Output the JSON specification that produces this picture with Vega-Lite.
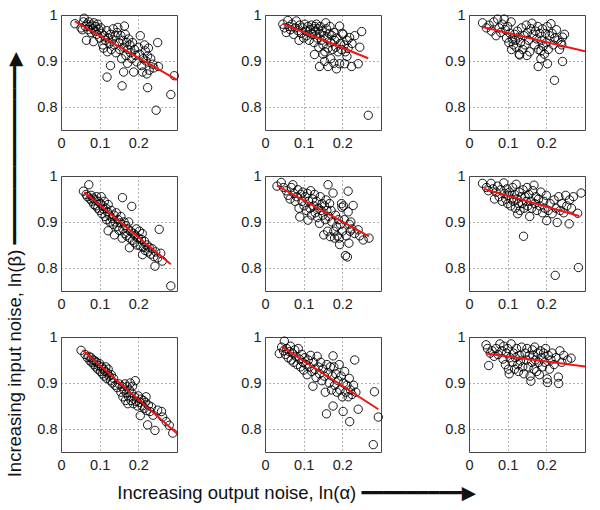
{
"$schema": "https://vega.github.io/schema/vega-lite/v6.json",
"background": "white",
"padding": {"left": 5, "top": 0, "right": 5, "bottom": 5},
"bounds": "flush",
"config": {
  "font": "Liberation Sans",
  "view": {"stroke": "#444", "strokeWidth": 1},
  "axis": {"grid": true, "gridDash": [1, 3], "gridColor": "#555", "gridWidth": 0.9, "domain": false, "ticks": false, "labelFont": "Liberation Sans", "labelFontSize": 14.5, "labelColor": "#222", "title": null},
  "header": {"titleFont": "Liberation Sans, DejaVu Sans", "titleFontSize": 18.5, "titleFontWeight": "normal", "titleColor": "#111", "labels": false}
},
"spacing": {"row": 46, "column": 88},
"data": {"values": [
{"r":1,"c":1,"t":"f","x":0.036,"y":0.986},{"r":1,"c":1,"t":"f","x":0.30,"y":0.859},
{"r":1,"c":2,"t":"f","x":0.046,"y":0.981},{"r":1,"c":2,"t":"f","x":0.267,"y":0.906},
{"r":1,"c":3,"t":"f","x":0.035,"y":0.974},{"r":1,"c":3,"t":"f","x":0.30,"y":0.921},
{"r":2,"c":1,"t":"f","x":0.06,"y":0.965},{"r":2,"c":1,"t":"f","x":0.284,"y":0.808},
{"r":2,"c":2,"t":"f","x":0.031,"y":0.979},{"r":2,"c":2,"t":"f","x":0.269,"y":0.869},
{"r":2,"c":3,"t":"f","x":0.038,"y":0.972},{"r":2,"c":3,"t":"f","x":0.285,"y":0.913},
{"r":3,"c":1,"t":"f","x":0.056,"y":0.971},{"r":3,"c":1,"t":"f","x":0.30,"y":0.79},
{"r":3,"c":2,"t":"f","x":0.043,"y":0.979},{"r":3,"c":2,"t":"f","x":0.293,"y":0.843},
{"r":3,"c":3,"t":"f","x":0.044,"y":0.964},{"r":3,"c":3,"t":"f","x":0.30,"y":0.936},
{"r":1,"c":1,"t":"p","x":0.036,"y":0.981},{"r":1,"c":1,"t":"p","x":0.052,"y":0.972},{"r":1,"c":1,"t":"p","x":0.055,"y":0.968},{"r":1,"c":1,"t":"p","x":0.058,"y":0.985},{"r":1,"c":1,"t":"p","x":0.060,"y":0.993},{"r":1,"c":1,"t":"p","x":0.063,"y":0.975},{"r":1,"c":1,"t":"p","x":0.067,"y":0.980},{"r":1,"c":1,"t":"p","x":0.070,"y":0.968},{"r":1,"c":1,"t":"p","x":0.072,"y":0.985},{"r":1,"c":1,"t":"p","x":0.075,"y":0.975},{"r":1,"c":1,"t":"p","x":0.078,"y":0.962},{"r":1,"c":1,"t":"p","x":0.080,"y":0.978},{"r":1,"c":1,"t":"p","x":0.083,"y":0.970},{"r":1,"c":1,"t":"p","x":0.085,"y":0.983},{"r":1,"c":1,"t":"p","x":0.088,"y":0.965},{"r":1,"c":1,"t":"p","x":0.090,"y":0.975},{"r":1,"c":1,"t":"p","x":0.093,"y":0.958},{"r":1,"c":1,"t":"p","x":0.095,"y":0.980},{"r":1,"c":1,"t":"p","x":0.098,"y":0.968},{"r":1,"c":1,"t":"p","x":0.100,"y":0.950},{"r":1,"c":1,"t":"p","x":0.103,"y":0.972},{"r":1,"c":1,"t":"p","x":0.066,"y":0.945},{"r":1,"c":1,"t":"p","x":0.084,"y":0.942},
{"r":1,"c":1,"t":"p","x":0.105,"y":0.960},{"r":1,"c":1,"t":"p","x":0.108,"y":0.935},{"r":1,"c":1,"t":"p","x":0.110,"y":0.928},{"r":1,"c":1,"t":"p","x":0.112,"y":0.955},{"r":1,"c":1,"t":"p","x":0.115,"y":0.945},{"r":1,"c":1,"t":"p","x":0.118,"y":0.966},{"r":1,"c":1,"t":"p","x":0.120,"y":0.920},{"r":1,"c":1,"t":"p","x":0.123,"y":0.950},{"r":1,"c":1,"t":"p","x":0.125,"y":0.938},{"r":1,"c":1,"t":"p","x":0.128,"y":0.958},{"r":1,"c":1,"t":"p","x":0.130,"y":0.925},{"r":1,"c":1,"t":"p","x":0.133,"y":0.946},{"r":1,"c":1,"t":"p","x":0.135,"y":0.970},{"r":1,"c":1,"t":"p","x":0.138,"y":0.935},{"r":1,"c":1,"t":"p","x":0.140,"y":0.955},{"r":1,"c":1,"t":"p","x":0.142,"y":0.918},{"r":1,"c":1,"t":"p","x":0.145,"y":0.962},{"r":1,"c":1,"t":"p","x":0.147,"y":0.973},{"r":1,"c":1,"t":"p","x":0.150,"y":0.940},{"r":1,"c":1,"t":"p","x":0.152,"y":0.925},{"r":1,"c":1,"t":"p","x":0.155,"y":0.955},{"r":1,"c":1,"t":"p","x":0.157,"y":0.905},{"r":1,"c":1,"t":"p","x":0.160,"y":0.945},{"r":1,"c":1,"t":"p","x":0.162,"y":0.930},{"r":1,"c":1,"t":"p","x":0.164,"y":0.976},{"r":1,"c":1,"t":"p","x":0.166,"y":0.958},{"r":1,"c":1,"t":"p","x":0.168,"y":0.912},{"r":1,"c":1,"t":"p","x":0.170,"y":0.940},{"r":1,"c":1,"t":"p","x":0.173,"y":0.925},
{"r":1,"c":1,"t":"p","x":0.119,"y":0.865},{"r":1,"c":1,"t":"p","x":0.128,"y":0.890},{"r":1,"c":1,"t":"p","x":0.158,"y":0.846},{"r":1,"c":1,"t":"p","x":0.162,"y":0.876},{"r":1,"c":1,"t":"p","x":0.172,"y":0.895},
{"r":1,"c":1,"t":"p","x":0.175,"y":0.948},{"r":1,"c":1,"t":"p","x":0.178,"y":0.935},{"r":1,"c":1,"t":"p","x":0.180,"y":0.918},{"r":1,"c":1,"t":"p","x":0.183,"y":0.905},{"r":1,"c":1,"t":"p","x":0.185,"y":0.940},{"r":1,"c":1,"t":"p","x":0.188,"y":0.876},{"r":1,"c":1,"t":"p","x":0.190,"y":0.925},{"r":1,"c":1,"t":"p","x":0.193,"y":0.912},{"r":1,"c":1,"t":"p","x":0.196,"y":0.898},{"r":1,"c":1,"t":"p","x":0.200,"y":0.930},{"r":1,"c":1,"t":"p","x":0.203,"y":0.915},{"r":1,"c":1,"t":"p","x":0.205,"y":0.955},{"r":1,"c":1,"t":"p","x":0.208,"y":0.890},{"r":1,"c":1,"t":"p","x":0.211,"y":0.876},{"r":1,"c":1,"t":"p","x":0.213,"y":0.905},{"r":1,"c":1,"t":"p","x":0.216,"y":0.935},{"r":1,"c":1,"t":"p","x":0.218,"y":0.922},{"r":1,"c":1,"t":"p","x":0.220,"y":0.900},{"r":1,"c":1,"t":"p","x":0.222,"y":0.872},{"r":1,"c":1,"t":"p","x":0.224,"y":0.911},{"r":1,"c":1,"t":"p","x":0.226,"y":0.928},{"r":1,"c":1,"t":"p","x":0.228,"y":0.880},{"r":1,"c":1,"t":"p","x":0.232,"y":0.905},{"r":1,"c":1,"t":"p","x":0.237,"y":0.893},{"r":1,"c":1,"t":"p","x":0.240,"y":0.885},{"r":1,"c":1,"t":"p","x":0.250,"y":0.940},{"r":1,"c":1,"t":"p","x":0.252,"y":0.888},{"r":1,"c":1,"t":"p","x":0.224,"y":0.842},{"r":1,"c":1,"t":"p","x":0.246,"y":0.793},{"r":1,"c":1,"t":"p","x":0.284,"y":0.827},{"r":1,"c":1,"t":"p","x":0.293,"y":0.868},
{"r":1,"c":2,"t":"p","x":0.046,"y":0.980},{"r":1,"c":2,"t":"p","x":0.050,"y":0.972},{"r":1,"c":2,"t":"p","x":0.055,"y":0.962},{"r":1,"c":2,"t":"p","x":0.059,"y":0.988},{"r":1,"c":2,"t":"p","x":0.062,"y":0.975},{"r":1,"c":2,"t":"p","x":0.066,"y":0.968},{"r":1,"c":2,"t":"p","x":0.070,"y":0.980},{"r":1,"c":2,"t":"p","x":0.074,"y":0.958},{"r":1,"c":2,"t":"p","x":0.078,"y":0.972},{"r":1,"c":2,"t":"p","x":0.081,"y":0.987},{"r":1,"c":2,"t":"p","x":0.085,"y":0.966},{"r":1,"c":2,"t":"p","x":0.088,"y":0.945},{"r":1,"c":2,"t":"p","x":0.090,"y":0.978},{"r":1,"c":2,"t":"p","x":0.094,"y":0.960},{"r":1,"c":2,"t":"p","x":0.097,"y":0.972},{"r":1,"c":2,"t":"p","x":0.100,"y":0.950},{"r":1,"c":2,"t":"p","x":0.103,"y":0.980},{"r":1,"c":2,"t":"p","x":0.106,"y":0.965},{"r":1,"c":2,"t":"p","x":0.108,"y":0.955},{"r":1,"c":2,"t":"p","x":0.111,"y":0.975},{"r":1,"c":2,"t":"p","x":0.114,"y":0.945},{"r":1,"c":2,"t":"p","x":0.117,"y":0.968},{"r":1,"c":2,"t":"p","x":0.120,"y":0.978},{"r":1,"c":2,"t":"p","x":0.122,"y":0.958},{"r":1,"c":2,"t":"p","x":0.125,"y":0.970},{"r":1,"c":2,"t":"p","x":0.127,"y":0.940},{"r":1,"c":2,"t":"p","x":0.129,"y":0.975},{"r":1,"c":2,"t":"p","x":0.131,"y":0.965},{"r":1,"c":2,"t":"p","x":0.133,"y":0.980},{"r":1,"c":2,"t":"p","x":0.135,"y":0.950},{"r":1,"c":2,"t":"p","x":0.137,"y":0.970},{"r":1,"c":2,"t":"p","x":0.139,"y":0.930},{"r":1,"c":2,"t":"p","x":0.141,"y":0.960},{"r":1,"c":2,"t":"p","x":0.143,"y":0.975},{"r":1,"c":2,"t":"p","x":0.146,"y":0.945},{"r":1,"c":2,"t":"p","x":0.148,"y":0.965},{"r":1,"c":2,"t":"p","x":0.150,"y":0.935},{"r":1,"c":2,"t":"p","x":0.152,"y":0.955},{"r":1,"c":2,"t":"p","x":0.155,"y":0.920},{"r":1,"c":2,"t":"p","x":0.157,"y":0.983},{"r":1,"c":2,"t":"p","x":0.159,"y":0.970},{"r":1,"c":2,"t":"p","x":0.161,"y":0.948},{"r":1,"c":2,"t":"p","x":0.163,"y":0.928},{"r":1,"c":2,"t":"p","x":0.166,"y":0.960},{"r":1,"c":2,"t":"p","x":0.168,"y":0.975},{"r":1,"c":2,"t":"p","x":0.170,"y":0.940},{"r":1,"c":2,"t":"p","x":0.173,"y":0.955},{"r":1,"c":2,"t":"p","x":0.175,"y":0.925},{"r":1,"c":2,"t":"p","x":0.178,"y":0.962},{"r":1,"c":2,"t":"p","x":0.180,"y":0.945},{"r":1,"c":2,"t":"p","x":0.183,"y":0.930},{"r":1,"c":2,"t":"p","x":0.186,"y":0.950},{"r":1,"c":2,"t":"p","x":0.189,"y":0.920},{"r":1,"c":2,"t":"p","x":0.193,"y":0.976},{"r":1,"c":2,"t":"p","x":0.195,"y":0.938},{"r":1,"c":2,"t":"p","x":0.198,"y":0.925},{"r":1,"c":2,"t":"p","x":0.200,"y":0.960},{"r":1,"c":2,"t":"p","x":0.202,"y":0.958},{"r":1,"c":2,"t":"p","x":0.205,"y":0.935},{"r":1,"c":2,"t":"p","x":0.208,"y":0.920},{"r":1,"c":2,"t":"p","x":0.212,"y":0.945},{"r":1,"c":2,"t":"p","x":0.215,"y":0.928},{"r":1,"c":2,"t":"p","x":0.219,"y":0.951},{"r":1,"c":2,"t":"p","x":0.225,"y":0.938},{"r":1,"c":2,"t":"p","x":0.232,"y":0.955},{"r":1,"c":2,"t":"p","x":0.245,"y":0.930},{"r":1,"c":2,"t":"p","x":0.250,"y":0.964},
{"r":1,"c":2,"t":"p","x":0.128,"y":0.914},{"r":1,"c":2,"t":"p","x":0.150,"y":0.915},{"r":1,"c":2,"t":"p","x":0.141,"y":0.888},{"r":1,"c":2,"t":"p","x":0.154,"y":0.899},{"r":1,"c":2,"t":"p","x":0.163,"y":0.888},{"r":1,"c":2,"t":"p","x":0.170,"y":0.905},{"r":1,"c":2,"t":"p","x":0.178,"y":0.895},{"r":1,"c":2,"t":"p","x":0.185,"y":0.883},{"r":1,"c":2,"t":"p","x":0.193,"y":0.894},{"r":1,"c":2,"t":"p","x":0.206,"y":0.894},{"r":1,"c":2,"t":"p","x":0.212,"y":0.910},{"r":1,"c":2,"t":"p","x":0.224,"y":0.888},{"r":1,"c":2,"t":"p","x":0.241,"y":0.894},{"r":1,"c":2,"t":"p","x":0.267,"y":0.782},
{"r":1,"c":3,"t":"p","x":0.035,"y":0.983},{"r":1,"c":3,"t":"p","x":0.045,"y":0.972},{"r":1,"c":3,"t":"p","x":0.052,"y":0.978},{"r":1,"c":3,"t":"p","x":0.058,"y":0.965},{"r":1,"c":3,"t":"p","x":0.064,"y":0.985},{"r":1,"c":3,"t":"p","x":0.070,"y":0.955},{"r":1,"c":3,"t":"p","x":0.074,"y":0.991},{"r":1,"c":3,"t":"p","x":0.078,"y":0.972},{"r":1,"c":3,"t":"p","x":0.082,"y":0.962},{"r":1,"c":3,"t":"p","x":0.086,"y":0.980},{"r":1,"c":3,"t":"p","x":0.091,"y":0.991},{"r":1,"c":3,"t":"p","x":0.094,"y":0.968},{"r":1,"c":3,"t":"p","x":0.097,"y":0.950},{"r":1,"c":3,"t":"p","x":0.100,"y":0.975},{"r":1,"c":3,"t":"p","x":0.103,"y":0.940},{"r":1,"c":3,"t":"p","x":0.106,"y":0.960},{"r":1,"c":3,"t":"p","x":0.109,"y":0.985},{"r":1,"c":3,"t":"p","x":0.112,"y":0.948},{"r":1,"c":3,"t":"p","x":0.115,"y":0.935},{"r":1,"c":3,"t":"p","x":0.118,"y":0.958},{"r":1,"c":3,"t":"p","x":0.120,"y":0.945},{"r":1,"c":3,"t":"p","x":0.122,"y":0.930},{"r":1,"c":3,"t":"p","x":0.125,"y":0.965},{"r":1,"c":3,"t":"p","x":0.128,"y":0.952},{"r":1,"c":3,"t":"p","x":0.130,"y":0.915},{"r":1,"c":3,"t":"p","x":0.133,"y":0.940},{"r":1,"c":3,"t":"p","x":0.136,"y":0.972},{"r":1,"c":3,"t":"p","x":0.139,"y":0.925},{"r":1,"c":3,"t":"p","x":0.142,"y":0.955},{"r":1,"c":3,"t":"p","x":0.145,"y":0.935},{"r":1,"c":3,"t":"p","x":0.148,"y":0.978},{"r":1,"c":3,"t":"p","x":0.151,"y":0.962},{"r":1,"c":3,"t":"p","x":0.154,"y":0.945},{"r":1,"c":3,"t":"p","x":0.157,"y":0.920},{"r":1,"c":3,"t":"p","x":0.160,"y":0.970},{"r":1,"c":3,"t":"p","x":0.163,"y":0.982},{"r":1,"c":3,"t":"p","x":0.166,"y":0.958},{"r":1,"c":3,"t":"p","x":0.169,"y":0.935},{"r":1,"c":3,"t":"p","x":0.172,"y":0.965},{"r":1,"c":3,"t":"p","x":0.175,"y":0.948},{"r":1,"c":3,"t":"p","x":0.178,"y":0.975},{"r":1,"c":3,"t":"p","x":0.180,"y":0.925},{"r":1,"c":3,"t":"p","x":0.183,"y":0.960},{"r":1,"c":3,"t":"p","x":0.186,"y":0.922},{"r":1,"c":3,"t":"p","x":0.188,"y":0.945},{"r":1,"c":3,"t":"p","x":0.190,"y":0.970},{"r":1,"c":3,"t":"p","x":0.192,"y":0.932},{"r":1,"c":3,"t":"p","x":0.195,"y":0.915},{"r":1,"c":3,"t":"p","x":0.198,"y":0.960},{"r":1,"c":3,"t":"p","x":0.200,"y":0.940},{"r":1,"c":3,"t":"p","x":0.202,"y":0.975},{"r":1,"c":3,"t":"p","x":0.205,"y":0.925},{"r":1,"c":3,"t":"p","x":0.208,"y":0.955},{"r":1,"c":3,"t":"p","x":0.212,"y":0.981},{"r":1,"c":3,"t":"p","x":0.215,"y":0.960},{"r":1,"c":3,"t":"p","x":0.218,"y":0.935},{"r":1,"c":3,"t":"p","x":0.222,"y":0.950},{"r":1,"c":3,"t":"p","x":0.226,"y":0.968},{"r":1,"c":3,"t":"p","x":0.230,"y":0.945},{"r":1,"c":3,"t":"p","x":0.234,"y":0.925},{"r":1,"c":3,"t":"p","x":0.238,"y":0.940},{"r":1,"c":3,"t":"p","x":0.242,"y":0.952},{"r":1,"c":3,"t":"p","x":0.247,"y":0.958},{"r":1,"c":3,"t":"p","x":0.240,"y":0.935},{"r":1,"c":3,"t":"p","x":0.179,"y":0.888},{"r":1,"c":3,"t":"p","x":0.203,"y":0.894},{"r":1,"c":3,"t":"p","x":0.242,"y":0.899},{"r":1,"c":3,"t":"p","x":0.221,"y":0.858},{"r":1,"c":3,"t":"p","x":0.131,"y":0.913},{"r":1,"c":3,"t":"p","x":0.186,"y":0.905},{"r":1,"c":3,"t":"p","x":0.110,"y":0.925},{"r":1,"c":3,"t":"p","x":0.150,"y":0.912},
{"r":2,"c":1,"t":"p","x":0.058,"y":0.967},{"r":2,"c":1,"t":"p","x":0.065,"y":0.960},{"r":2,"c":1,"t":"p","x":0.068,"y":0.955},{"r":2,"c":1,"t":"p","x":0.072,"y":0.981},{"r":2,"c":1,"t":"p","x":0.075,"y":0.950},{"r":2,"c":1,"t":"p","x":0.078,"y":0.958},{"r":2,"c":1,"t":"p","x":0.080,"y":0.945},{"r":2,"c":1,"t":"p","x":0.083,"y":0.952},{"r":2,"c":1,"t":"p","x":0.085,"y":0.938},{"r":2,"c":1,"t":"p","x":0.088,"y":0.948},{"r":2,"c":1,"t":"p","x":0.090,"y":0.935},{"r":2,"c":1,"t":"p","x":0.092,"y":0.955},{"r":2,"c":1,"t":"p","x":0.095,"y":0.930},{"r":2,"c":1,"t":"p","x":0.097,"y":0.945},{"r":2,"c":1,"t":"p","x":0.100,"y":0.925},{"r":2,"c":1,"t":"p","x":0.102,"y":0.940},{"r":2,"c":1,"t":"p","x":0.104,"y":0.955},{"r":2,"c":1,"t":"p","x":0.106,"y":0.918},{"r":2,"c":1,"t":"p","x":0.108,"y":0.935},{"r":2,"c":1,"t":"p","x":0.110,"y":0.928},{"r":2,"c":1,"t":"p","x":0.112,"y":0.945},{"r":2,"c":1,"t":"p","x":0.114,"y":0.912},{"r":2,"c":1,"t":"p","x":0.116,"y":0.930},{"r":2,"c":1,"t":"p","x":0.118,"y":0.905},{"r":2,"c":1,"t":"p","x":0.120,"y":0.922},{"r":2,"c":1,"t":"p","x":0.122,"y":0.938},{"r":2,"c":1,"t":"p","x":0.122,"y":0.881},{"r":2,"c":1,"t":"p","x":0.125,"y":0.915},{"r":2,"c":1,"t":"p","x":0.127,"y":0.900},{"r":2,"c":1,"t":"p","x":0.130,"y":0.925},{"r":2,"c":1,"t":"p","x":0.132,"y":0.908},{"r":2,"c":1,"t":"p","x":0.135,"y":0.895},{"r":2,"c":1,"t":"p","x":0.137,"y":0.915},{"r":2,"c":1,"t":"p","x":0.138,"y":0.872},{"r":2,"c":1,"t":"p","x":0.140,"y":0.900},{"r":2,"c":1,"t":"p","x":0.143,"y":0.920},{"r":2,"c":1,"t":"p","x":0.145,"y":0.890},{"r":2,"c":1,"t":"p","x":0.148,"y":0.905},{"r":2,"c":1,"t":"p","x":0.150,"y":0.882},{"r":2,"c":1,"t":"p","x":0.153,"y":0.898},{"r":2,"c":1,"t":"p","x":0.155,"y":0.912},{"r":2,"c":1,"t":"p","x":0.158,"y":0.865},{"r":2,"c":1,"t":"p","x":0.159,"y":0.953},{"r":2,"c":1,"t":"p","x":0.160,"y":0.885},{"r":2,"c":1,"t":"p","x":0.163,"y":0.900},{"r":2,"c":1,"t":"p","x":0.165,"y":0.875},{"r":2,"c":1,"t":"p","x":0.168,"y":0.892},{"r":2,"c":1,"t":"p","x":0.170,"y":0.870},{"r":2,"c":1,"t":"p","x":0.173,"y":0.885},{"r":2,"c":1,"t":"p","x":0.175,"y":0.900},{"r":2,"c":1,"t":"p","x":0.177,"y":0.844},{"r":2,"c":1,"t":"p","x":0.178,"y":0.865},{"r":2,"c":1,"t":"p","x":0.180,"y":0.880},{"r":2,"c":1,"t":"p","x":0.183,"y":0.934},{"r":2,"c":1,"t":"p","x":0.185,"y":0.860},{"r":2,"c":1,"t":"p","x":0.188,"y":0.875},{"r":2,"c":1,"t":"p","x":0.190,"y":0.855},{"r":2,"c":1,"t":"p","x":0.192,"y":0.870},{"r":2,"c":1,"t":"p","x":0.195,"y":0.885},{"r":2,"c":1,"t":"p","x":0.197,"y":0.850},{"r":2,"c":1,"t":"p","x":0.200,"y":0.865},{"r":2,"c":1,"t":"p","x":0.203,"y":0.880},{"r":2,"c":1,"t":"p","x":0.205,"y":0.848},{"r":2,"c":1,"t":"p","x":0.208,"y":0.862},{"r":2,"c":1,"t":"p","x":0.210,"y":0.875},{"r":2,"c":1,"t":"p","x":0.211,"y":0.829},{"r":2,"c":1,"t":"p","x":0.213,"y":0.845},{"r":2,"c":1,"t":"p","x":0.216,"y":0.858},{"r":2,"c":1,"t":"p","x":0.218,"y":0.838},{"r":2,"c":1,"t":"p","x":0.222,"y":0.850},{"r":2,"c":1,"t":"p","x":0.225,"y":0.835},{"r":2,"c":1,"t":"p","x":0.228,"y":0.845},{"r":2,"c":1,"t":"p","x":0.232,"y":0.830},{"r":2,"c":1,"t":"p","x":0.236,"y":0.842},{"r":2,"c":1,"t":"p","x":0.240,"y":0.825},{"r":2,"c":1,"t":"p","x":0.243,"y":0.804},{"r":2,"c":1,"t":"p","x":0.245,"y":0.835},{"r":2,"c":1,"t":"p","x":0.250,"y":0.822},{"r":2,"c":1,"t":"p","x":0.254,"y":0.884},{"r":2,"c":1,"t":"p","x":0.258,"y":0.832},{"r":2,"c":1,"t":"p","x":0.262,"y":0.815},{"r":2,"c":1,"t":"p","x":0.284,"y":0.761},
{"r":2,"c":2,"t":"p","x":0.031,"y":0.978},{"r":2,"c":2,"t":"p","x":0.042,"y":0.986},{"r":2,"c":2,"t":"p","x":0.048,"y":0.975},{"r":2,"c":2,"t":"p","x":0.055,"y":0.968},{"r":2,"c":2,"t":"p","x":0.060,"y":0.958},{"r":2,"c":2,"t":"p","x":0.065,"y":0.950},{"r":2,"c":2,"t":"p","x":0.068,"y":0.975},{"r":2,"c":2,"t":"p","x":0.072,"y":0.981},{"r":2,"c":2,"t":"p","x":0.075,"y":0.962},{"r":2,"c":2,"t":"p","x":0.078,"y":0.945},{"r":2,"c":2,"t":"p","x":0.082,"y":0.955},{"r":2,"c":2,"t":"p","x":0.085,"y":0.970},{"r":2,"c":2,"t":"p","x":0.088,"y":0.930},{"r":2,"c":2,"t":"p","x":0.090,"y":0.911},{"r":2,"c":2,"t":"p","x":0.093,"y":0.960},{"r":2,"c":2,"t":"p","x":0.096,"y":0.945},{"r":2,"c":2,"t":"p","x":0.098,"y":0.965},{"r":2,"c":2,"t":"p","x":0.101,"y":0.935},{"r":2,"c":2,"t":"p","x":0.104,"y":0.955},{"r":2,"c":2,"t":"p","x":0.107,"y":0.925},{"r":2,"c":2,"t":"p","x":0.110,"y":0.962},{"r":2,"c":2,"t":"p","x":0.111,"y":0.904},{"r":2,"c":2,"t":"p","x":0.113,"y":0.945},{"r":2,"c":2,"t":"p","x":0.116,"y":0.930},{"r":2,"c":2,"t":"p","x":0.118,"y":0.968},{"r":2,"c":2,"t":"p","x":0.120,"y":0.915},{"r":2,"c":2,"t":"p","x":0.123,"y":0.950},{"r":2,"c":2,"t":"p","x":0.126,"y":0.935},{"r":2,"c":2,"t":"p","x":0.128,"y":0.960},{"r":2,"c":2,"t":"p","x":0.130,"y":0.920},{"r":2,"c":2,"t":"p","x":0.133,"y":0.945},{"r":2,"c":2,"t":"p","x":0.136,"y":0.910},{"r":2,"c":2,"t":"p","x":0.138,"y":0.930},{"r":2,"c":2,"t":"p","x":0.141,"y":0.897},{"r":2,"c":2,"t":"p","x":0.143,"y":0.955},{"r":2,"c":2,"t":"p","x":0.145,"y":0.925},{"r":2,"c":2,"t":"p","x":0.148,"y":0.940},{"r":2,"c":2,"t":"p","x":0.150,"y":0.915},{"r":2,"c":2,"t":"p","x":0.152,"y":0.872},{"r":2,"c":2,"t":"p","x":0.154,"y":0.935},{"r":2,"c":2,"t":"p","x":0.156,"y":0.905},{"r":2,"c":2,"t":"p","x":0.158,"y":0.948},{"r":2,"c":2,"t":"p","x":0.160,"y":0.925},{"r":2,"c":2,"t":"p","x":0.162,"y":0.880},{"r":2,"c":2,"t":"p","x":0.163,"y":0.981},{"r":2,"c":2,"t":"p","x":0.165,"y":0.912},{"r":2,"c":2,"t":"p","x":0.167,"y":0.940},{"r":2,"c":2,"t":"p","x":0.169,"y":0.868},{"r":2,"c":2,"t":"p","x":0.171,"y":0.925},{"r":2,"c":2,"t":"p","x":0.173,"y":0.900},{"r":2,"c":2,"t":"p","x":0.176,"y":0.963},{"r":2,"c":2,"t":"p","x":0.178,"y":0.880},{"r":2,"c":2,"t":"p","x":0.180,"y":0.865},{"r":2,"c":2,"t":"p","x":0.182,"y":0.915},{"r":2,"c":2,"t":"p","x":0.185,"y":0.890},{"r":2,"c":2,"t":"p","x":0.187,"y":0.870},{"r":2,"c":2,"t":"p","x":0.190,"y":0.905},{"r":2,"c":2,"t":"p","x":0.192,"y":0.865},{"r":2,"c":2,"t":"p","x":0.193,"y":0.851},{"r":2,"c":2,"t":"p","x":0.195,"y":0.895},{"r":2,"c":2,"t":"p","x":0.198,"y":0.940},{"r":2,"c":2,"t":"p","x":0.199,"y":0.932},{"r":2,"c":2,"t":"p","x":0.200,"y":0.880},{"r":2,"c":2,"t":"p","x":0.203,"y":0.935},{"r":2,"c":2,"t":"p","x":0.205,"y":0.905},{"r":2,"c":2,"t":"p","x":0.208,"y":0.827},{"r":2,"c":2,"t":"p","x":0.210,"y":0.870},{"r":2,"c":2,"t":"p","x":0.213,"y":0.824},{"r":2,"c":2,"t":"p","x":0.215,"y":0.967},{"r":2,"c":2,"t":"p","x":0.215,"y":0.922},{"r":2,"c":2,"t":"p","x":0.217,"y":0.854},{"r":2,"c":2,"t":"p","x":0.218,"y":0.895},{"r":2,"c":2,"t":"p","x":0.220,"y":0.880},{"r":2,"c":2,"t":"p","x":0.222,"y":0.900},{"r":2,"c":2,"t":"p","x":0.225,"y":0.885},{"r":2,"c":2,"t":"p","x":0.228,"y":0.936},{"r":2,"c":2,"t":"p","x":0.232,"y":0.875},{"r":2,"c":2,"t":"p","x":0.241,"y":0.883},{"r":2,"c":2,"t":"p","x":0.245,"y":0.870},{"r":2,"c":2,"t":"p","x":0.254,"y":0.861},{"r":2,"c":2,"t":"p","x":0.269,"y":0.865},
{"r":2,"c":3,"t":"p","x":0.035,"y":0.984},{"r":2,"c":3,"t":"p","x":0.045,"y":0.975},{"r":2,"c":3,"t":"p","x":0.050,"y":0.968},{"r":2,"c":3,"t":"p","x":0.057,"y":0.984},{"r":2,"c":3,"t":"p","x":0.062,"y":0.972},{"r":2,"c":3,"t":"p","x":0.066,"y":0.950},{"r":2,"c":3,"t":"p","x":0.070,"y":0.965},{"r":2,"c":3,"t":"p","x":0.074,"y":0.978},{"r":2,"c":3,"t":"p","x":0.078,"y":0.955},{"r":2,"c":3,"t":"p","x":0.082,"y":0.970},{"r":2,"c":3,"t":"p","x":0.086,"y":0.945},{"r":2,"c":3,"t":"p","x":0.090,"y":0.985},{"r":2,"c":3,"t":"p","x":0.092,"y":0.962},{"r":2,"c":3,"t":"p","x":0.095,"y":0.950},{"r":2,"c":3,"t":"p","x":0.098,"y":0.972},{"r":2,"c":3,"t":"p","x":0.100,"y":0.940},{"r":2,"c":3,"t":"p","x":0.102,"y":0.958},{"r":2,"c":3,"t":"p","x":0.105,"y":0.965},{"r":2,"c":3,"t":"p","x":0.108,"y":0.935},{"r":2,"c":3,"t":"p","x":0.110,"y":0.950},{"r":2,"c":3,"t":"p","x":0.113,"y":0.975},{"r":2,"c":3,"t":"p","x":0.115,"y":0.945},{"r":2,"c":3,"t":"p","x":0.118,"y":0.960},{"r":2,"c":3,"t":"p","x":0.120,"y":0.930},{"r":2,"c":3,"t":"p","x":0.122,"y":0.982},{"r":2,"c":3,"t":"p","x":0.124,"y":0.950},{"r":2,"c":3,"t":"p","x":0.126,"y":0.918},{"r":2,"c":3,"t":"p","x":0.128,"y":0.940},{"r":2,"c":3,"t":"p","x":0.130,"y":0.965},{"r":2,"c":3,"t":"p","x":0.132,"y":0.925},{"r":2,"c":3,"t":"p","x":0.135,"y":0.955},{"r":2,"c":3,"t":"p","x":0.138,"y":0.940},{"r":2,"c":3,"t":"p","x":0.140,"y":0.970},{"r":2,"c":3,"t":"p","x":0.141,"y":0.869},{"r":2,"c":3,"t":"p","x":0.143,"y":0.930},{"r":2,"c":3,"t":"p","x":0.145,"y":0.955},{"r":2,"c":3,"t":"p","x":0.148,"y":0.945},{"r":2,"c":3,"t":"p","x":0.150,"y":0.975},{"r":2,"c":3,"t":"p","x":0.152,"y":0.935},{"r":2,"c":3,"t":"p","x":0.155,"y":0.960},{"r":2,"c":3,"t":"p","x":0.157,"y":0.912},{"r":2,"c":3,"t":"p","x":0.160,"y":0.945},{"r":2,"c":3,"t":"p","x":0.162,"y":0.930},{"r":2,"c":3,"t":"p","x":0.165,"y":0.968},{"r":2,"c":3,"t":"p","x":0.168,"y":0.980},{"r":2,"c":3,"t":"p","x":0.170,"y":0.940},{"r":2,"c":3,"t":"p","x":0.173,"y":0.955},{"r":2,"c":3,"t":"p","x":0.176,"y":0.925},{"r":2,"c":3,"t":"p","x":0.180,"y":0.950},{"r":2,"c":3,"t":"p","x":0.183,"y":0.935},{"r":2,"c":3,"t":"p","x":0.186,"y":0.965},{"r":2,"c":3,"t":"p","x":0.190,"y":0.920},{"r":2,"c":3,"t":"p","x":0.193,"y":0.945},{"r":2,"c":3,"t":"p","x":0.196,"y":0.930},{"r":2,"c":3,"t":"p","x":0.200,"y":0.958},{"r":2,"c":3,"t":"p","x":0.201,"y":0.903},{"r":2,"c":3,"t":"p","x":0.205,"y":0.925},{"r":2,"c":3,"t":"p","x":0.210,"y":0.940},{"r":2,"c":3,"t":"p","x":0.215,"y":0.918},{"r":2,"c":3,"t":"p","x":0.220,"y":0.948},{"r":2,"c":3,"t":"p","x":0.223,"y":0.784},{"r":2,"c":3,"t":"p","x":0.225,"y":0.930},{"r":2,"c":3,"t":"p","x":0.228,"y":0.899},{"r":2,"c":3,"t":"p","x":0.232,"y":0.955},{"r":2,"c":3,"t":"p","x":0.236,"y":0.925},{"r":2,"c":3,"t":"p","x":0.240,"y":0.940},{"r":2,"c":3,"t":"p","x":0.245,"y":0.920},{"r":2,"c":3,"t":"p","x":0.250,"y":0.958},{"r":2,"c":3,"t":"p","x":0.253,"y":0.935},{"r":2,"c":3,"t":"p","x":0.259,"y":0.896},{"r":2,"c":3,"t":"p","x":0.260,"y":0.948},{"r":2,"c":3,"t":"p","x":0.265,"y":0.930},{"r":2,"c":3,"t":"p","x":0.270,"y":0.955},{"r":2,"c":3,"t":"p","x":0.281,"y":0.919},{"r":2,"c":3,"t":"p","x":0.283,"y":0.801},{"r":2,"c":3,"t":"p","x":0.290,"y":0.963},
{"r":3,"c":1,"t":"p","x":0.052,"y":0.971},{"r":3,"c":1,"t":"p","x":0.062,"y":0.962},{"r":3,"c":1,"t":"p","x":0.068,"y":0.955},{"r":3,"c":1,"t":"p","x":0.072,"y":0.958},{"r":3,"c":1,"t":"p","x":0.075,"y":0.948},{"r":3,"c":1,"t":"p","x":0.078,"y":0.955},{"r":3,"c":1,"t":"p","x":0.080,"y":0.945},{"r":3,"c":1,"t":"p","x":0.083,"y":0.950},{"r":3,"c":1,"t":"p","x":0.085,"y":0.940},{"r":3,"c":1,"t":"p","x":0.088,"y":0.948},{"r":3,"c":1,"t":"p","x":0.090,"y":0.935},{"r":3,"c":1,"t":"p","x":0.092,"y":0.945},{"r":3,"c":1,"t":"p","x":0.095,"y":0.930},{"r":3,"c":1,"t":"p","x":0.097,"y":0.938},{"r":3,"c":1,"t":"p","x":0.100,"y":0.942},{"r":3,"c":1,"t":"p","x":0.102,"y":0.925},{"r":3,"c":1,"t":"p","x":0.105,"y":0.935},{"r":3,"c":1,"t":"p","x":0.107,"y":0.920},{"r":3,"c":1,"t":"p","x":0.110,"y":0.930},{"r":3,"c":1,"t":"p","x":0.112,"y":0.915},{"r":3,"c":1,"t":"p","x":0.114,"y":0.925},{"r":3,"c":1,"t":"p","x":0.116,"y":0.935},{"r":3,"c":1,"t":"p","x":0.118,"y":0.910},{"r":3,"c":1,"t":"p","x":0.120,"y":0.922},{"r":3,"c":1,"t":"p","x":0.122,"y":0.930},{"r":3,"c":1,"t":"p","x":0.125,"y":0.915},{"r":3,"c":1,"t":"p","x":0.128,"y":0.905},{"r":3,"c":1,"t":"p","x":0.130,"y":0.918},{"r":3,"c":1,"t":"p","x":0.133,"y":0.900},{"r":3,"c":1,"t":"p","x":0.136,"y":0.910},{"r":3,"c":1,"t":"p","x":0.140,"y":0.895},{"r":3,"c":1,"t":"p","x":0.145,"y":0.890},{"r":3,"c":1,"t":"p","x":0.150,"y":0.898},{"r":3,"c":1,"t":"p","x":0.155,"y":0.880},{"r":3,"c":1,"t":"p","x":0.158,"y":0.892},{"r":3,"c":1,"t":"p","x":0.160,"y":0.870},{"r":3,"c":1,"t":"p","x":0.163,"y":0.885},{"r":3,"c":1,"t":"p","x":0.165,"y":0.898},{"r":3,"c":1,"t":"p","x":0.167,"y":0.862},{"r":3,"c":1,"t":"p","x":0.169,"y":0.878},{"r":3,"c":1,"t":"p","x":0.171,"y":0.892},{"r":3,"c":1,"t":"p","x":0.173,"y":0.855},{"r":3,"c":1,"t":"p","x":0.175,"y":0.870},{"r":3,"c":1,"t":"p","x":0.177,"y":0.885},{"r":3,"c":1,"t":"p","x":0.179,"y":0.900},{"r":3,"c":1,"t":"p","x":0.181,"y":0.862},{"r":3,"c":1,"t":"p","x":0.183,"y":0.878},{"r":3,"c":1,"t":"p","x":0.185,"y":0.893},{"r":3,"c":1,"t":"p","x":0.187,"y":0.855},{"r":3,"c":1,"t":"p","x":0.190,"y":0.870},{"r":3,"c":1,"t":"p","x":0.192,"y":0.905},{"r":3,"c":1,"t":"p","x":0.195,"y":0.860},{"r":3,"c":1,"t":"p","x":0.198,"y":0.850},{"r":3,"c":1,"t":"p","x":0.200,"y":0.872},{"r":3,"c":1,"t":"p","x":0.203,"y":0.858},{"r":3,"c":1,"t":"p","x":0.205,"y":0.829},{"r":3,"c":1,"t":"p","x":0.207,"y":0.865},{"r":3,"c":1,"t":"p","x":0.210,"y":0.850},{"r":3,"c":1,"t":"p","x":0.213,"y":0.862},{"r":3,"c":1,"t":"p","x":0.216,"y":0.845},{"r":3,"c":1,"t":"p","x":0.218,"y":0.858},{"r":3,"c":1,"t":"p","x":0.220,"y":0.870},{"r":3,"c":1,"t":"p","x":0.222,"y":0.840},{"r":3,"c":1,"t":"p","x":0.224,"y":0.809},{"r":3,"c":1,"t":"p","x":0.226,"y":0.852},{"r":3,"c":1,"t":"p","x":0.230,"y":0.838},{"r":3,"c":1,"t":"p","x":0.234,"y":0.848},{"r":3,"c":1,"t":"p","x":0.238,"y":0.830},{"r":3,"c":1,"t":"p","x":0.243,"y":0.797},{"r":3,"c":1,"t":"p","x":0.250,"y":0.841},{"r":3,"c":1,"t":"p","x":0.260,"y":0.838},{"r":3,"c":1,"t":"p","x":0.263,"y":0.826},{"r":3,"c":1,"t":"p","x":0.272,"y":0.816},{"r":3,"c":1,"t":"p","x":0.280,"y":0.808},{"r":3,"c":1,"t":"p","x":0.289,"y":0.791},
{"r":3,"c":2,"t":"p","x":0.037,"y":0.964},{"r":3,"c":2,"t":"p","x":0.043,"y":0.978},{"r":3,"c":2,"t":"p","x":0.048,"y":0.970},{"r":3,"c":2,"t":"p","x":0.050,"y":0.991},{"r":3,"c":2,"t":"p","x":0.053,"y":0.962},{"r":3,"c":2,"t":"p","x":0.056,"y":0.975},{"r":3,"c":2,"t":"p","x":0.060,"y":0.955},{"r":3,"c":2,"t":"p","x":0.063,"y":0.968},{"r":3,"c":2,"t":"p","x":0.066,"y":0.980},{"r":3,"c":2,"t":"p","x":0.068,"y":0.950},{"r":3,"c":2,"t":"p","x":0.071,"y":0.965},{"r":3,"c":2,"t":"p","x":0.074,"y":0.945},{"r":3,"c":2,"t":"p","x":0.077,"y":0.972},{"r":3,"c":2,"t":"p","x":0.080,"y":0.958},{"r":3,"c":2,"t":"p","x":0.083,"y":0.940},{"r":3,"c":2,"t":"p","x":0.086,"y":0.975},{"r":3,"c":2,"t":"p","x":0.089,"y":0.952},{"r":3,"c":2,"t":"p","x":0.092,"y":0.935},{"r":3,"c":2,"t":"p","x":0.095,"y":0.962},{"r":3,"c":2,"t":"p","x":0.098,"y":0.945},{"r":3,"c":2,"t":"p","x":0.100,"y":0.928},{"r":3,"c":2,"t":"p","x":0.103,"y":0.955},{"r":3,"c":2,"t":"p","x":0.106,"y":0.940},{"r":3,"c":2,"t":"p","x":0.109,"y":0.918},{"r":3,"c":2,"t":"p","x":0.112,"y":0.950},{"r":3,"c":2,"t":"p","x":0.115,"y":0.935},{"r":3,"c":2,"t":"p","x":0.118,"y":0.960},{"r":3,"c":2,"t":"p","x":0.121,"y":0.925},{"r":3,"c":2,"t":"p","x":0.124,"y":0.893},{"r":3,"c":2,"t":"p","x":0.126,"y":0.945},{"r":3,"c":2,"t":"p","x":0.129,"y":0.930},{"r":3,"c":2,"t":"p","x":0.132,"y":0.912},{"r":3,"c":2,"t":"p","x":0.135,"y":0.958},{"r":3,"c":2,"t":"p","x":0.138,"y":0.935},{"r":3,"c":2,"t":"p","x":0.141,"y":0.920},{"r":3,"c":2,"t":"p","x":0.144,"y":0.945},{"r":3,"c":2,"t":"p","x":0.147,"y":0.905},{"r":3,"c":2,"t":"p","x":0.150,"y":0.930},{"r":3,"c":2,"t":"p","x":0.153,"y":0.915},{"r":3,"c":2,"t":"p","x":0.156,"y":0.880},{"r":3,"c":2,"t":"p","x":0.159,"y":0.833},{"r":3,"c":2,"t":"p","x":0.160,"y":0.940},{"r":3,"c":2,"t":"p","x":0.163,"y":0.922},{"r":3,"c":2,"t":"p","x":0.166,"y":0.900},{"r":3,"c":2,"t":"p","x":0.169,"y":0.935},{"r":3,"c":2,"t":"p","x":0.172,"y":0.885},{"r":3,"c":2,"t":"p","x":0.174,"y":0.915},{"r":3,"c":2,"t":"p","x":0.176,"y":0.959},{"r":3,"c":2,"t":"p","x":0.176,"y":0.850},{"r":3,"c":2,"t":"p","x":0.178,"y":0.935},{"r":3,"c":2,"t":"p","x":0.180,"y":0.895},{"r":3,"c":2,"t":"p","x":0.183,"y":0.920},{"r":3,"c":2,"t":"p","x":0.186,"y":0.880},{"r":3,"c":2,"t":"p","x":0.189,"y":0.905},{"r":3,"c":2,"t":"p","x":0.192,"y":0.940},{"r":3,"c":2,"t":"p","x":0.194,"y":0.885},{"r":3,"c":2,"t":"p","x":0.197,"y":0.915},{"r":3,"c":2,"t":"p","x":0.200,"y":0.870},{"r":3,"c":2,"t":"p","x":0.202,"y":0.838},{"r":3,"c":2,"t":"p","x":0.203,"y":0.900},{"r":3,"c":2,"t":"p","x":0.206,"y":0.925},{"r":3,"c":2,"t":"p","x":0.209,"y":0.880},{"r":3,"c":2,"t":"p","x":0.212,"y":0.895},{"r":3,"c":2,"t":"p","x":0.215,"y":0.870},{"r":3,"c":2,"t":"p","x":0.218,"y":0.910},{"r":3,"c":2,"t":"p","x":0.219,"y":0.816},{"r":3,"c":2,"t":"p","x":0.221,"y":0.885},{"r":3,"c":2,"t":"p","x":0.225,"y":0.875},{"r":3,"c":2,"t":"p","x":0.229,"y":0.895},{"r":3,"c":2,"t":"p","x":0.232,"y":0.950},{"r":3,"c":2,"t":"p","x":0.235,"y":0.880},{"r":3,"c":2,"t":"p","x":0.241,"y":0.843},{"r":3,"c":2,"t":"p","x":0.283,"y":0.881},{"r":3,"c":2,"t":"p","x":0.293,"y":0.826},{"r":3,"c":2,"t":"p","x":0.280,"y":0.766},
{"r":3,"c":3,"t":"p","x":0.044,"y":0.983},{"r":3,"c":3,"t":"p","x":0.048,"y":0.975},{"r":3,"c":3,"t":"p","x":0.051,"y":0.938},{"r":3,"c":3,"t":"p","x":0.055,"y":0.965},{"r":3,"c":3,"t":"p","x":0.060,"y":0.970},{"r":3,"c":3,"t":"p","x":0.065,"y":0.958},{"r":3,"c":3,"t":"p","x":0.070,"y":0.975},{"r":3,"c":3,"t":"p","x":0.075,"y":0.962},{"r":3,"c":3,"t":"p","x":0.080,"y":0.985},{"r":3,"c":3,"t":"p","x":0.085,"y":0.970},{"r":3,"c":3,"t":"p","x":0.088,"y":0.952},{"r":3,"c":3,"t":"p","x":0.090,"y":0.980},{"r":3,"c":3,"t":"p","x":0.094,"y":0.940},{"r":3,"c":3,"t":"p","x":0.097,"y":0.965},{"r":3,"c":3,"t":"p","x":0.100,"y":0.975},{"r":3,"c":3,"t":"p","x":0.102,"y":0.930},{"r":3,"c":3,"t":"p","x":0.104,"y":0.920},{"r":3,"c":3,"t":"p","x":0.106,"y":0.955},{"r":3,"c":3,"t":"p","x":0.109,"y":0.985},{"r":3,"c":3,"t":"p","x":0.112,"y":0.945},{"r":3,"c":3,"t":"p","x":0.115,"y":0.965},{"r":3,"c":3,"t":"p","x":0.118,"y":0.930},{"r":3,"c":3,"t":"p","x":0.120,"y":0.955},{"r":3,"c":3,"t":"p","x":0.123,"y":0.975},{"r":3,"c":3,"t":"p","x":0.126,"y":0.940},{"r":3,"c":3,"t":"p","x":0.128,"y":0.925},{"r":3,"c":3,"t":"p","x":0.130,"y":0.960},{"r":3,"c":3,"t":"p","x":0.133,"y":0.948},{"r":3,"c":3,"t":"p","x":0.136,"y":0.978},{"r":3,"c":3,"t":"p","x":0.139,"y":0.935},{"r":3,"c":3,"t":"p","x":0.142,"y":0.920},{"r":3,"c":3,"t":"p","x":0.145,"y":0.965},{"r":3,"c":3,"t":"p","x":0.148,"y":0.950},{"r":3,"c":3,"t":"p","x":0.150,"y":0.975},{"r":3,"c":3,"t":"p","x":0.153,"y":0.935},{"r":3,"c":3,"t":"p","x":0.156,"y":0.960},{"r":3,"c":3,"t":"p","x":0.158,"y":0.915},{"r":3,"c":3,"t":"p","x":0.160,"y":0.904},{"r":3,"c":3,"t":"p","x":0.162,"y":0.945},{"r":3,"c":3,"t":"p","x":0.164,"y":0.972},{"r":3,"c":3,"t":"p","x":0.166,"y":0.960},{"r":3,"c":3,"t":"p","x":0.168,"y":0.930},{"r":3,"c":3,"t":"p","x":0.170,"y":0.978},{"r":3,"c":3,"t":"p","x":0.172,"y":0.950},{"r":3,"c":3,"t":"p","x":0.175,"y":0.925},{"r":3,"c":3,"t":"p","x":0.178,"y":0.965},{"r":3,"c":3,"t":"p","x":0.180,"y":0.945},{"r":3,"c":3,"t":"p","x":0.182,"y":0.918},{"r":3,"c":3,"t":"p","x":0.185,"y":0.970},{"r":3,"c":3,"t":"p","x":0.188,"y":0.955},{"r":3,"c":3,"t":"p","x":0.190,"y":0.935},{"r":3,"c":3,"t":"p","x":0.193,"y":0.965},{"r":3,"c":3,"t":"p","x":0.196,"y":0.945},{"r":3,"c":3,"t":"p","x":0.198,"y":0.975},{"r":3,"c":3,"t":"p","x":0.202,"y":0.909},{"r":3,"c":3,"t":"p","x":0.203,"y":0.901},{"r":3,"c":3,"t":"p","x":0.205,"y":0.960},{"r":3,"c":3,"t":"p","x":0.208,"y":0.930},{"r":3,"c":3,"t":"p","x":0.212,"y":0.950},{"r":3,"c":3,"t":"p","x":0.215,"y":0.965},{"r":3,"c":3,"t":"p","x":0.220,"y":0.940},{"r":3,"c":3,"t":"p","x":0.225,"y":0.955},{"r":3,"c":3,"t":"p","x":0.231,"y":0.913},{"r":3,"c":3,"t":"p","x":0.232,"y":0.899},{"r":3,"c":3,"t":"p","x":0.235,"y":0.970},{"r":3,"c":3,"t":"p","x":0.240,"y":0.945},{"r":3,"c":3,"t":"p","x":0.245,"y":0.960},{"r":3,"c":3,"t":"p","x":0.255,"y":0.950},{"r":3,"c":3,"t":"p","x":0.264,"y":0.954}
]},
"facet": {
  "row": {"field": "r", "type": "ordinal", "title": "Increasing input noise, ln(β) ━━━━━━━━━━━━━━━━▶\u00a0\u00a0\u00a0\u00a0\u00a0\u00a0\u00a0\u00a0\u00a0\u00a0\u200b", "header": {"labels": false, "titleOrient": "left", "titleAngle": -90, "titlePadding": 8}},
  "column": {"field": "c", "type": "ordinal", "title": "Increasing output noise, ln(α) ━━━━━━━━━▶\u00a0\u00a0\u00a0\u00a0\u00a0\u00a0\u200b", "header": {"labels": false, "titleOrient": "bottom", "titlePadding": 22}}
},
"resolve": {"axis": {"x": "independent", "y": "independent"}},
"spec": {
  "width": 116,
  "height": 115,
  "layer": [
    {
      "transform": [{"filter": "datum.t === 'p'"}],
      "mark": {"type": "point", "shape": "circle", "filled": false, "stroke": "#000", "strokeWidth": 0.9, "size": 70, "opacity": 1},
      "encoding": {
        "x": {"field": "x", "type": "quantitative", "scale": {"domain": [0, 0.3], "nice": false, "zero": false}, "axis": {"values": [0, 0.1, 0.2], "format": "~g", "labelFlush": false, "labelPadding": 6}},
        "y": {"field": "y", "type": "quantitative", "scale": {"domain": [0.75, 1], "nice": false, "zero": false}, "axis": {"values": [0.8, 0.9, 1], "format": "~g", "labelPadding": 4}}
      }
    },
    {
      "transform": [{"filter": "datum.t === 'f'"}],
      "mark": {"type": "line", "color": "#f01414", "strokeWidth": 2, "clip": true},
      "encoding": {
        "x": {"field": "x", "type": "quantitative"},
        "y": {"field": "y", "type": "quantitative"}
      }
    }
  ]
}
}
